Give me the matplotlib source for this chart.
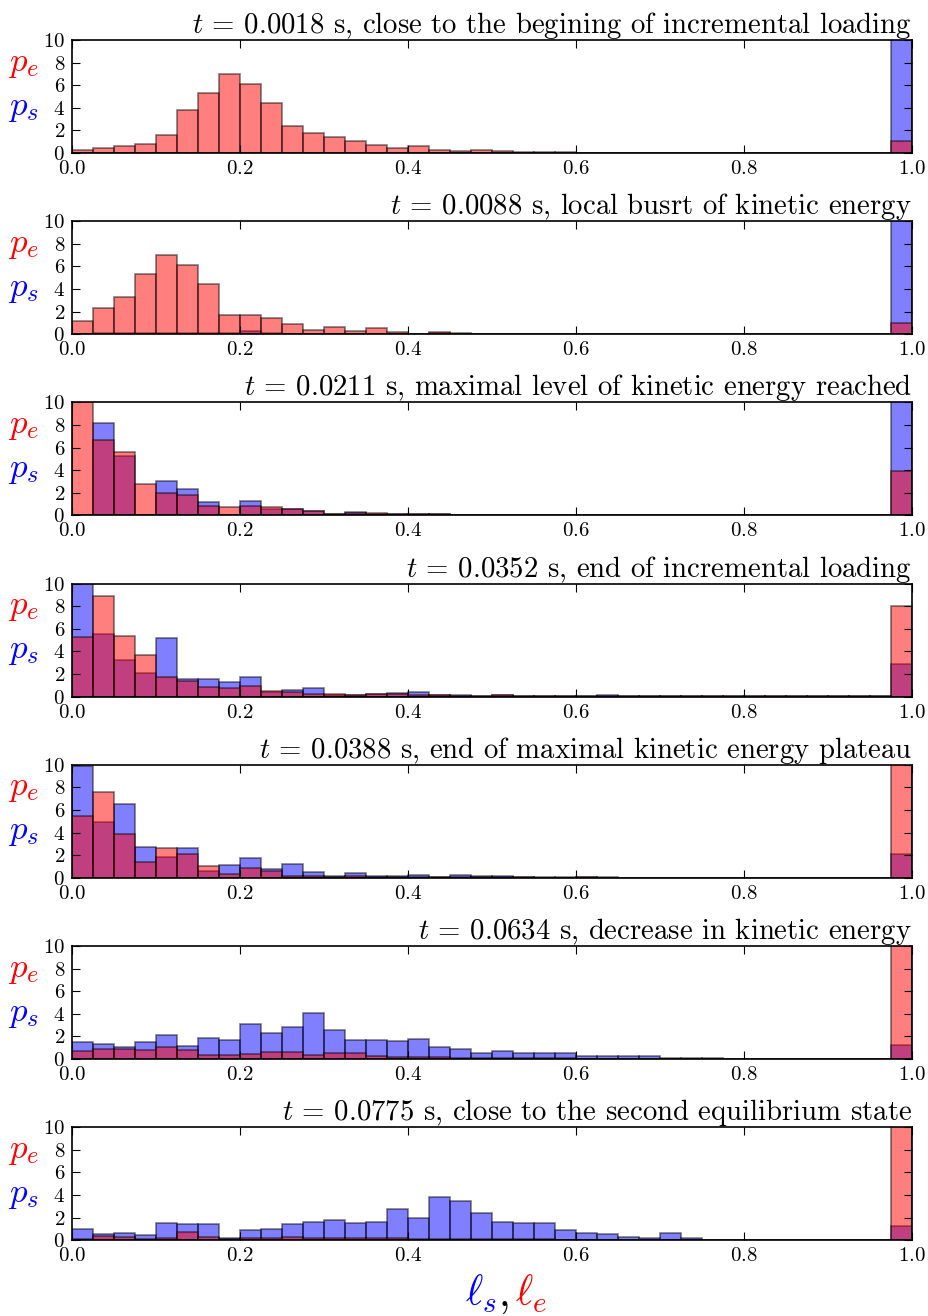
import numpy as np
import matplotlib
matplotlib.use("Agg")
import matplotlib.pyplot as plt

plt.rcParams["font.family"] = "serif"
plt.rcParams["font.serif"] = ["cmr10", "DejaVu Serif"]
plt.rcParams["mathtext.fontset"] = "cm"
plt.rcParams["axes.unicode_minus"] = False
plt.rcParams["axes.formatter.use_mathtext"] = True

# bin edges of the length histograms (40 bins on [0, 1])
edges = np.linspace(0.0, 1.0, 41)

titles = [
    r"$t$ = 0.0018 s, close to the begining of incremental loading",
    r"$t$ = 0.0088 s, local busrt of kinetic energy",
    r"$t$ = 0.0211 s, maximal level of kinetic energy reached",
    r"$t$ = 0.0352 s, end of incremental loading",
    r"$t$ = 0.0388 s, end of maximal kinetic energy plateau",
    r"$t$ = 0.0634 s, decrease in kinetic energy",
    r"$t$ = 0.0775 s, close to the second equilibrium state",
]

# density of elastic links (red)
pe = [
    [0.27, 0.48, 0.66, 0.8, 1.6, 3.8, 5.3, 7.0, 6.1, 4.4,
     2.4, 1.75, 1.4, 1.1, 0.75, 0.4, 0.65, 0.3, 0.15, 0.25,
     0.18, 0.08, 0.05, 0.05, 0.03, 0.03, 0.02, 0.02, 0.02, 0.02,
     0.02, 0.02, 0.02, 0.02, 0.02, 0.02, 0.02, 0.02, 0.02, 1.05],
    [1.13, 2.3, 3.3, 5.3, 7.0, 6.1, 4.4, 1.7, 1.7, 1.46,
     0.9, 0.4, 0.6, 0.27, 0.58, 0.2, 0.05, 0.18, 0.1, 0.05,
     0.05, 0.03, 0.03, 0.02, 0.02, 0.02, 0.02, 0.02, 0.02, 0.02,
     0.02, 0.02, 0.02, 0.02, 0.02, 0.02, 0.05, 0.02, 0.02, 1.0],
    [14.0, 6.7, 5.6, 2.8, 1.95, 1.83, 0.83, 0.77, 0.83, 0.7,
     0.6, 0.35, 0.1, 0.2, 0.2, 0.1, 0.1, 0.08, 0.05, 0.05,
     0.05, 0.03, 0.03, 0.02, 0.02, 0.02, 0.02, 0.02, 0.02, 0.02,
     0.02, 0.02, 0.02, 0.02, 0.02, 0.02, 0.02, 0.02, 0.02, 3.9],
    [5.3, 8.9, 5.4, 3.65, 1.7, 1.4, 0.83, 0.77, 0.97, 0.47,
     0.4, 0.2, 0.25, 0.15, 0.2, 0.2, 0.15, 0.1, 0.08, 0.03,
     0.1, 0.05, 0.05, 0.03, 0.03, 0.05, 0.02, 0.02, 0.02, 0.02,
     0.02, 0.02, 0.02, 0.02, 0.02, 0.02, 0.02, 0.02, 0.02, 8.05],
    [5.46, 7.58, 3.92, 1.42, 2.6, 2.1, 1.06, 0.32, 0.88, 0.56,
     0.15, 0.12, 0.05, 0.15, 0.08, 0.05, 0.08, 0.05, 0.08, 0.05,
     0.05, 0.03, 0.02, 0.02, 0.03, 0.02, 0.02, 0.02, 0.02, 0.02,
     0.02, 0.02, 0.02, 0.02, 0.02, 0.02, 0.02, 0.02, 0.02, 14.0],
    [0.7, 0.9, 0.9, 0.8, 1.05, 0.8, 0.35, 0.35, 0.45, 0.6,
     0.6, 0.35, 0.5, 0.5, 0.3, 0.2, 0.2, 0.15, 0.1, 0.1,
     0.08, 0.05, 0.05, 0.05, 0.03, 0.03, 0.03, 0.03, 0.02, 0.02,
     0.02, 0.02, 0.02, 0.02, 0.02, 0.02, 0.02, 0.02, 0.02, 14.0],
    [0.1, 0.35, 0.3, 0.15, 0.2, 0.7, 0.3, 0.1, 0.2, 0.2,
     0.25, 0.2, 0.2, 0.2, 0.2, 0.2, 0.15, 0.15, 0.15, 0.1,
     0.1, 0.1, 0.08, 0.05, 0.05, 0.05, 0.03, 0.03, 0.03, 0.02,
     0.02, 0.02, 0.02, 0.02, 0.02, 0.02, 0.02, 0.02, 0.02, 14.0],
]

# density of sliding links (blue)
ps = [
    [0.02, 0.02, 0.02, 0.02, 0.02, 0.03, 0.03, 0.03, 0.03, 0.03,
     0.02, 0.02, 0.02, 0.02, 0.02, 0.02, 0.02, 0.02, 0.02, 0.02,
     0.02, 0.02, 0.02, 0.02, 0.02, 0.02, 0.02, 0.02, 0.02, 0.02,
     0.02, 0.02, 0.02, 0.02, 0.02, 0.02, 0.02, 0.02, 0.02, 35.0],
    [0.05, 0.1, 0.1, 0.1, 0.1, 0.1, 0.1, 0.1, 0.25, 0.1,
     0.05, 0.05, 0.05, 0.05, 0.05, 0.05, 0.05, 0.15, 0.05, 0.03,
     0.02, 0.02, 0.02, 0.02, 0.02, 0.02, 0.02, 0.02, 0.02, 0.02,
     0.02, 0.02, 0.02, 0.02, 0.02, 0.02, 0.02, 0.02, 0.02, 35.0],
    [0.0, 8.2, 5.3, 0.0, 3.07, 2.3, 1.18, 0.0, 1.3, 0.6,
     0.58, 0.35, 0.08, 0.3, 0.15, 0.12, 0.1, 0.08, 0.05, 0.05,
     0.03, 0.03, 0.02, 0.02, 0.02, 0.02, 0.02, 0.02, 0.02, 0.02,
     0.02, 0.02, 0.02, 0.02, 0.02, 0.02, 0.02, 0.02, 0.02, 30.0],
    [12.0, 5.55, 3.25, 2.07, 5.2, 1.53, 1.6, 1.27, 1.77, 0.45,
     0.6, 0.77, 0.1, 0.1, 0.25, 0.35, 0.45, 0.18, 0.1, 0.03,
     0.18, 0.05, 0.05, 0.03, 0.03, 0.12, 0.02, 0.02, 0.02, 0.02,
     0.02, 0.02, 0.02, 0.02, 0.02, 0.02, 0.02, 0.02, 0.02, 2.9],
    [9.9, 4.93, 6.5, 2.74, 1.8, 2.63, 0.62, 1.12, 1.74, 0.74,
     1.21, 0.53, 0.18, 0.44, 0.18, 0.12, 0.21, 0.1, 0.24, 0.15,
     0.12, 0.1, 0.03, 0.03, 0.1, 0.03, 0.02, 0.02, 0.02, 0.02,
     0.02, 0.02, 0.02, 0.02, 0.02, 0.02, 0.02, 0.02, 0.02, 2.1],
    [1.5, 1.3, 1.05, 1.5, 2.1, 1.15, 1.85, 1.7, 3.1, 2.3,
     2.8, 4.1, 2.6, 1.7, 1.65, 1.6, 1.75, 1.05, 0.9, 0.55,
     0.7, 0.55, 0.5, 0.5, 0.25, 0.25, 0.3, 0.3, 0.1, 0.05,
     0.05, 0.03, 0.03, 0.03, 0.02, 0.02, 0.02, 0.02, 0.02, 1.25],
    [1.0, 0.55, 0.65, 0.45, 1.5, 1.4, 1.45, 0.2, 0.9, 1.0,
     1.45, 1.6, 1.75, 1.5, 1.6, 2.8, 1.95, 3.8, 3.5, 2.4,
     1.6, 1.55, 1.5, 0.9, 0.65, 0.55, 0.3, 0.2, 0.6, 0.2,
     0.05, 0.05, 0.03, 0.03, 0.02, 0.02, 0.02, 0.02, 0.02, 1.3],
]

fig = plt.figure(figsize=(9.29, 13.16), dpi=100)
W, H = 929.0, 1316.0
left, width, height, step, first_bottom = 72, 840, 113, 181.2, 153

for i in range(7):
    bottom = first_bottom + step * i
    ax = fig.add_axes([left / W, 1 - bottom / H, width / W, height / H])
    ax.bar(edges[:-1], ps[i], width=np.diff(edges), align="edge",
           color="b", alpha=0.5, edgecolor="k", linewidth=1.2)
    ax.bar(edges[:-1], pe[i], width=np.diff(edges), align="edge",
           color="r", alpha=0.5, edgecolor="k", linewidth=1.2)
    ax.set_xlim(0, 1)
    ax.set_ylim(0, 10)
    ax.set_yticks([0, 2, 4, 6, 8, 10])
    ax.set_xticks([0.0, 0.2, 0.4, 0.6, 0.8, 1.0])
    ax.tick_params(direction="in", top=True, right=True, length=6,
                   labelsize=15, pad=5)
    for sp in ax.spines.values():
        sp.set_linewidth(1.2)
    ax.set_title(titles[i], loc="right", fontsize=20.7, pad=5)
    ax.text(-0.058, 0.79, r"$p_e$", color="r", fontsize=25,
            transform=ax.transAxes, ha="center", va="center")
    ax.text(-0.058, 0.40, r"$p_s$", color="b", fontsize=25,
            transform=ax.transAxes, ha="center", va="center")

# shared x label built from three coloured pieces
fig.text(0.535, 0.008, r"$\ell_s$", color="b", fontsize=30, ha="right")
fig.text(0.543, 0.008, ",", color="k", fontsize=30, ha="center")
fig.text(0.554, 0.008, r"$\ell_e$", color="r", fontsize=30, ha="left")

fig.savefig("out.png", dpi=100)
